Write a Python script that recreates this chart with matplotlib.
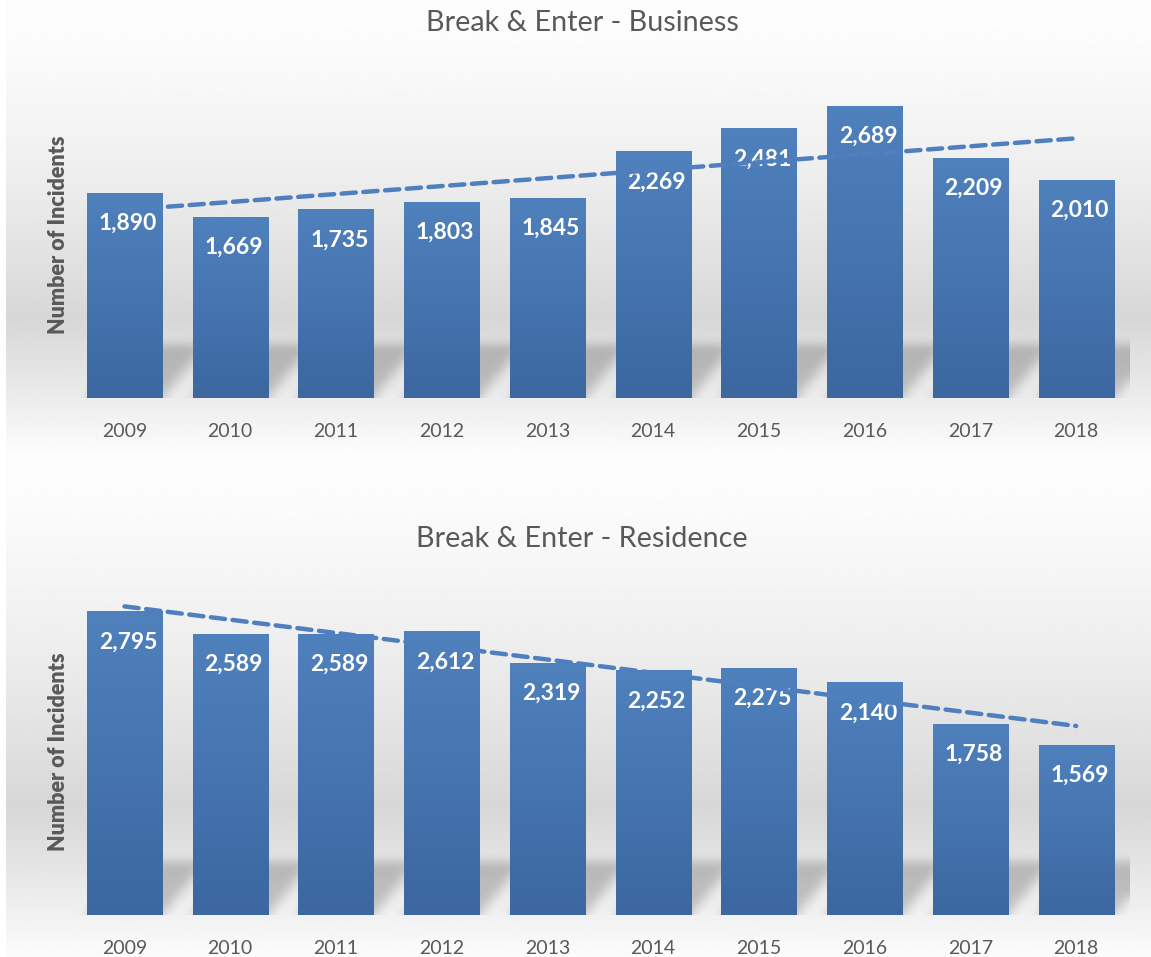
import numpy as np
import matplotlib
matplotlib.use("Agg")
import matplotlib.pyplot as plt
from matplotlib.colors import LinearSegmentedColormap

# ---------------- data ----------------
years = ["2009", "2010", "2011", "2012", "2013", "2014", "2015", "2016", "2017", "2018"]
business = [1890, 1669, 1735, 1803, 1845, 2269, 2481, 2689, 2209, 2010]
residence = [2795, 2589, 2589, 2612, 2319, 2252, 2275, 2140, 1758, 1569]
titles = ["Break & Enter - Business", "Break & Enter - Residence"]
ylabel = "Number of Incidents"

# ---------------- style ----------------
FONT = "Lato"
TXT = "#595959"
BAR_TOP = (79 / 255, 129 / 255, 189 / 255)
BAR_BOT = (60 / 255, 103 / 255, 160 / 255)
TREND = "#4f7fbf"
W, H = 1151, 957
DPI = 100

fig = plt.figure(figsize=(W / DPI, H / DPI), dpi=DPI)
fig.patch.set_facecolor("white")


def px(x0, y0, x1, y1):
    """pixel box (top-left origin) -> figure fraction rect"""
    return [x0 / W, 1 - y1 / H, (x1 - x0) / W, (y1 - y0) / H]


def panel_bg(rect):
    bg = fig.add_axes(rect, zorder=-10)
    t = np.linspace(0, 1, 400)
    peak = 0.70
    v = np.where(t < peak,
                 253 - 38 * (t / peak) ** 1.5,
                 215 + 37 * ((t - peak) / (1 - peak)) ** 1.1)
    img = np.repeat((v / 255.0)[:, None], 2, axis=1)
    bg.imshow(img, cmap="gray", vmin=0, vmax=1, aspect="auto",
              extent=(0, 1, 0, 1), interpolation="bilinear")
    bg.set_axis_off()


def blur1d(a, sigma, axis):
    r = int(3 * sigma) + 1
    k = np.exp(-0.5 * (np.arange(-r, r + 1) / sigma) ** 2)
    k /= k.sum()
    return np.apply_along_axis(lambda m: np.convolve(m, k, mode="same"), axis, a)


grad_cmap = LinearSegmentedColormap.from_list("bar", [BAR_BOT, BAR_TOP])


def draw_panel(ax, values, title):
    x = np.arange(len(values))
    width = 0.71
    ymax = 3000
    ax.set_xlim(-0.5, len(values) - 0.5)
    ax.set_ylim(0, ymax)
    ax.patch.set_alpha(0)

    # --- perspective shadows behind bars ---
    sh_top = 0.19 * ymax
    nx, ny = 1100, 80
    xs = np.linspace(-0.5, len(values) - 0.5, nx)
    ys = np.linspace(0, sh_top, ny)
    XX, YY = np.meshgrid(xs, ys)
    mask = np.zeros_like(XX)
    shadow_h = 0.165 * ymax
    shift = 0.40
    for i in x:
        frac = np.clip(YY / shadow_h, 0, None)
        left = i - width / 2 + shift * frac
        right = i + width / 2 + shift * frac
        mask = np.maximum(mask, ((XX >= left) & (XX <= right) & (YY <= shadow_h)).astype(float))
    pad = 20
    mp = np.pad(mask, ((pad, pad), (pad, pad)), mode="edge")
    mp = blur1d(mp, 6.0, 1)
    mp = blur1d(mp, 6.0, 0)
    mask = mp[pad:-pad, pad:-pad]
    rgba = np.zeros(mask.shape + (4,))
    rgba[..., 3] = 0.20 * mask
    ax.imshow(rgba, extent=(-0.5, len(values) - 0.5, 0, sh_top), origin="lower",
              aspect="auto", zorder=1, interpolation="bilinear")

    # --- bars with vertical gradient ---
    bars = ax.bar(x, values, width=width, color=BAR_TOP, zorder=2, linewidth=0)
    grad = np.linspace(0, 1, 256)[:, None]
    for b in bars:
        bx, by = b.get_x(), b.get_y()
        bw, bh = b.get_width(), b.get_height()
        im = ax.imshow(grad, cmap=grad_cmap, origin="lower", aspect="auto",
                       extent=(bx, bx + bw, by, by + bh), zorder=2.1)
        im.set_clip_path(b)

    # --- data labels (inside end) ---
    for b, v in zip(bars, values):
        ax.annotate(f"{v:,}", (b.get_x() + b.get_width() / 2, b.get_height()),
                    xytext=(2.5, -22), textcoords="offset points",
                    ha="center", va="center", color="white",
                    fontsize=16.5, fontweight="bold", family=FONT, zorder=3)

    # --- linear trendline ---
    k, c = np.polyfit(x, values, 1)
    ax.plot(x, k * x + c, color=TREND, lw=3.2, ls=(0, (3.2, 1.7)),
            solid_capstyle="round", dash_capstyle="round", zorder=4)

    # --- axes cosmetics ---
    for s in ax.spines.values():
        s.set_visible(False)
    ax.set_yticks([])
    ax.set_xticks(x)
    ax.set_xticklabels(years, fontsize=14, color=TXT, family=FONT)
    ax.tick_params(axis="x", length=0, pad=18)
    ax.set_ylabel(ylabel, fontsize=15.5, fontweight="heavy", color=TXT,
                  family=FONT, labelpad=2)


# background panels
panel_bg(px(6, 0, W, 452))
panel_bg(px(6, 452, W, H))

ax1 = fig.add_axes(px(71.6, 72, 1129, 398), zorder=1)
ax2 = fig.add_axes(px(71.6, 589, 1129, 915), zorder=1)
draw_panel(ax1, business, titles[0])
draw_panel(ax2, residence, titles[1])

fig.text(582 / W, 1 - 23 / H, titles[0], ha="center", va="center",
         fontsize=20.7, color=TXT, family=FONT)
fig.text(582 / W, 1 - 539 / H, titles[1], ha="center", va="center",
         fontsize=20.7, color=TXT, family=FONT)

fig.savefig("out.png", dpi=DPI)
